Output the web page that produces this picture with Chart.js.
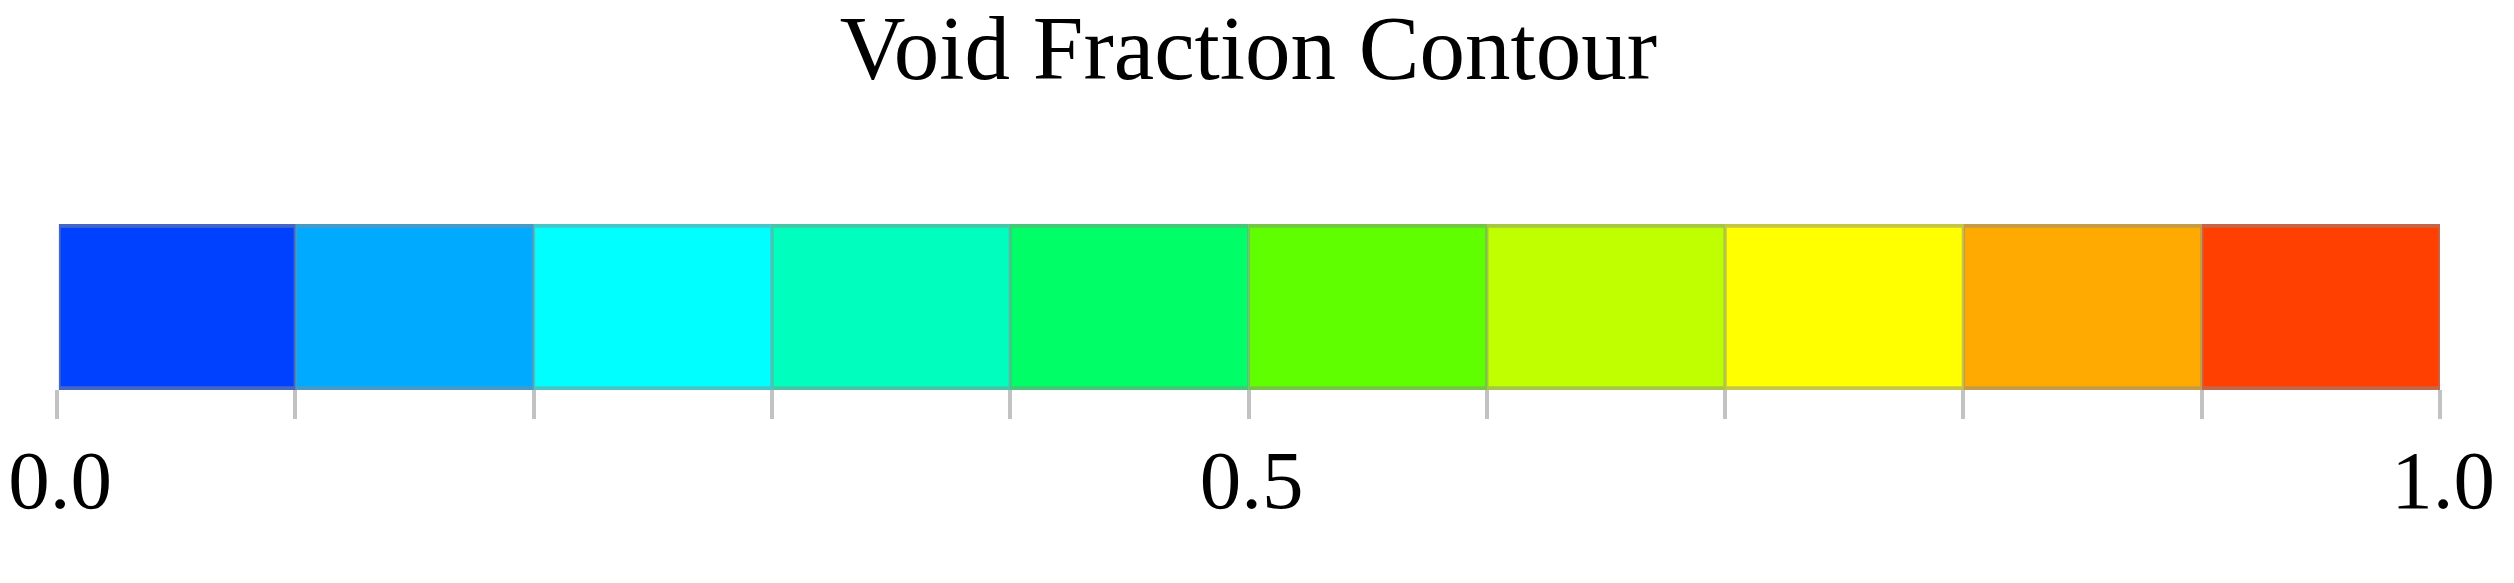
<!DOCTYPE html>
<html>
<head>
<meta charset="utf-8">
<script src="https://cdn.jsdelivr.net/npm/chart.js@4"></script>
<style>
  html, body { margin: 0; padding: 0; background: #fff; }
  canvas { display: block; }
</style>
</head>
<body>
<canvas id="contour-bar" width="2514" height="583"></canvas>
<script>
// colour bar bins: edges from 0 to 1, one colour per bin
var binEdges = [0.0, 0.1, 0.2, 0.3, 0.4, 0.5, 0.6, 0.7, 0.8, 0.9, 1.0];
var binColors = ['#0040ff', '#00aaff', '#00ffff', '#00ffbf', '#00ff66',
                 '#60ff00', '#bfff00', '#ffff00', '#ffaa00', '#ff4000'];
var tickValues = [0.0, 0.5, 1.0];
var tickLabels = ['0.0', '0.5', '1.0'];
var barRow = ['Void fraction'];

// darker, greyish version of a colour for the bin outline
function edgeColor(hex) {
  var r = parseInt(hex.substr(1, 2), 16);
  var g = parseInt(hex.substr(3, 2), 16);
  var b = parseInt(hex.substr(5, 2), 16);
  var mix = function (c) { return Math.round(c * 0.5 + 140 * 0.5); };
  return 'rgb(' + mix(r) + ',' + mix(g) + ',' + mix(b) + ')';
}

// one floating bar per bin, all drawn on the same row
var datasets = binColors.map(function (color, i) {
  return {
    data: [[binEdges[i], binEdges[i + 1]]],
    backgroundColor: color,
    borderColor: edgeColor(color),
    borderWidth: { top: 4, bottom: 4, left: 2, right: 2 },
    borderSkipped: false,
    grouped: false,
    barPercentage: 1,
    categoryPercentage: 1
  };
});

var serif = "'Liberation Serif', 'Times New Roman', serif";

new Chart(document.getElementById('contour-bar').getContext('2d'), {
  type: 'bar',
  data: { labels: barRow, datasets: datasets },
  options: {
    indexAxis: 'y',
    responsive: false,
    animation: false,
    layout: { padding: { left: 57, right: 74, top: 0, bottom: 3 } },
    plugins: {
      legend: { display: false },
      tooltip: { enabled: false },
      title: {
        display: true,
        text: 'Void Fraction Contour',
        color: '#000',
        font: { family: serif, size: 91, weight: 'normal', lineHeight: 1.0 },
        padding: { top: 10, bottom: 123 }
      }
    },
    scales: {
      y: { display: false },
      x: {
        type: 'linear',
        min: 0,
        max: 1,
        afterBuildTicks: function (scale) {
          scale.ticks = binEdges.map(function (v) { return { value: v }; });
        },
        afterFit: function (scale) {
          // fixed axis band under the bar, no extra side padding for labels
          scale.height = 190;
          scale.paddingLeft = 0;
          scale.paddingRight = 0;
        },
        border: { display: false },
        grid: {
          drawOnChartArea: false,
          drawTicks: true,
          tickLength: 29,
          color: '#c2c2c2',
          lineWidth: 4
        },
        ticks: {
          padding: 17,
          color: '#000',
          maxRotation: 0,
          autoSkip: false,
          labelOffset: 3,
          font: { family: serif, size: 83, lineHeight: 1.2 },
          callback: function (value) {
            var k = tickValues.findIndex(function (t) { return Math.abs(t - value) < 1e-6; });
            return k >= 0 ? tickLabels[k] : '';
          }
        }
      }
    }
  }
});
</script>
</body>
</html>
